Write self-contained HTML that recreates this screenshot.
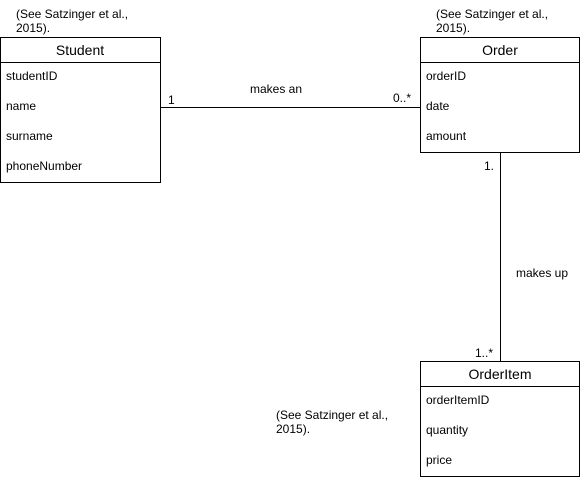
<!DOCTYPE html>
<html><head><style>body{margin:0;background:#fff}svg{display:block}text{font-family:"Liberation Sans",Arial,sans-serif;font-size:12px;fill:#000}</style></head>
<body>
<svg width="581" height="480" xmlns="http://www.w3.org/2000/svg">
<g fill="none" stroke="#000" stroke-width="1">
<rect x="0.5" y="37.5" width="160" height="145"/>
<line x1="0" y1="62.5" x2="160" y2="62.5"/>
<rect x="420.5" y="37.5" width="159" height="115"/>
<line x1="420" y1="62.5" x2="580" y2="62.5"/>
<rect x="420.5" y="361.5" width="159" height="115"/>
<line x1="420" y1="386.5" x2="580" y2="386.5"/>
<line x1="160" y1="107.5" x2="420" y2="107.5"/>
<line x1="500.5" y1="152" x2="500.5" y2="361"/>
</g>
<text x="16" y="18">(See Satzinger et al.,</text>
<text x="16" y="32">2015).</text>
<text x="80" y="55" text-anchor="middle" style="font-size:14px">Student</text>
<text x="6" y="80">studentID</text>
<text x="6" y="110">name</text>
<text x="6" y="140">surname</text>
<text x="6" y="170">phoneNumber</text>
<text x="436" y="18">(See Satzinger et al.,</text>
<text x="436" y="32">2015).</text>
<text x="500" y="55" text-anchor="middle" style="font-size:14px">Order</text>
<text x="426" y="80">orderID</text>
<text x="426" y="110">date</text>
<text x="426" y="140">amount</text>
<text x="500" y="379" text-anchor="middle" style="font-size:14px">OrderItem</text>
<text x="426" y="404">orderItemID</text>
<text x="426" y="434">quantity</text>
<text x="426" y="464">price</text>
<text x="276" y="419">(See Satzinger et al.,</text>
<text x="276" y="433">2015).</text>
<text x="250" y="93">makes an</text>
<text x="168" y="104">1</text>
<text x="393" y="102">0..*</text>
<text x="484" y="170">1.</text>
<text x="516" y="277">makes up</text>
<text x="475" y="357">1..*</text>
</svg>
</body></html>
